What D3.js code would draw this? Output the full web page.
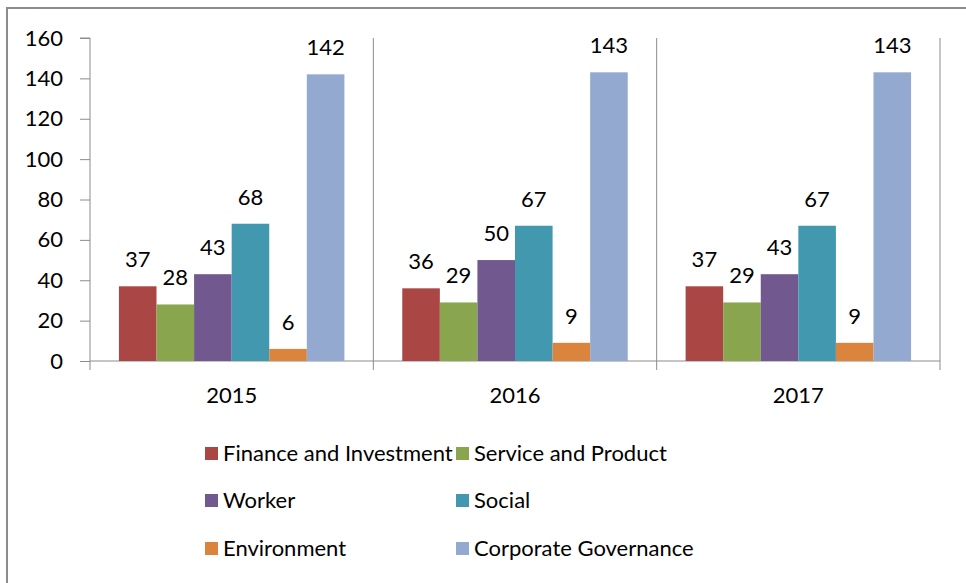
<!DOCTYPE html>
<html>
<head>
<meta charset="utf-8">
<script src="https://cdn.jsdelivr.net/npm/d3@7"></script>
<style>
  body { margin: 0; background: #fff; }
  svg { display: block; font-family: Lato, "Noto Sans", sans-serif; }
</style>
</head>
<body>
<div id="vis"></div>
<script>
// Grouped bar chart: topics per year
const years = ["2015", "2016", "2017"];
const seriesNames = ["Finance and Investment", "Service and Product", "Worker", "Social", "Environment", "Corporate Governance"];
const financeVals = [37, 36, 37];
const serviceVals = [28, 29, 29];
const workerVals = [43, 50, 43];
const socialVals = [68, 67, 67];
const environmentVals = [6, 9, 9];
const governanceVals = [142, 143, 143];
const yTicks = [0, 20, 40, 60, 80, 100, 120, 140, 160];

const colors = ["#AA4643", "#89A54E", "#71588F", "#4198AF", "#DB843D", "#93A9CF"];
const seriesVals = [financeVals, serviceVals, workerVals, socialVals, environmentVals, governanceVals];

const width = 966;
const height = 583;
const margin = { top: 38, right: 26, bottom: 222, left: 90 };
const fontSize = 22;

const svg = d3.select("#vis")
  .append("svg")
  .attr("width", width)
  .attr("height", height);

// outer frame (only left and top visible)
svg.append("path")
  .attr("d", `M7,${height} V8 H${width}`)
  .attr("fill", "none")
  .attr("stroke", "#8c8c8c")
  .attr("stroke-width", 2);

const x0 = d3.scaleBand()
  .domain(years)
  .range([margin.left, width - margin.right])
  .padding(0);

const x1 = d3.scaleBand()
  .domain(seriesNames)
  .range([0, x0.bandwidth()])
  .paddingInner(0)
  .paddingOuter(0.77);

const y = d3.scaleLinear()
  .domain([0, 160])
  .range([height - margin.bottom, margin.top]);

// category separators
svg.append("g")
  .selectAll("line")
  .data(years)
  .enter()
  .append("line")
  .attr("x1", d => x0(d) + x0.bandwidth())
  .attr("x2", d => x0(d) + x0.bandwidth())
  .attr("y1", y(160))
  .attr("y2", y(0) + 9)
  .attr("stroke", "#8c8c8c")
  .attr("stroke-width", 1);

// Y axis
const yAxis = svg.append("g")
  .attr("transform", `translate(${margin.left},0)`)
  .call(d3.axisLeft(y).tickValues(yTicks).tickSize(10).tickPadding(17));
yAxis.selectAll("line, path").attr("stroke", "#8c8c8c");
yAxis.select(".domain").attr("d", `M-10,${y(160)}H0V${y(0)}`);
yAxis.selectAll("text")
  .attr("font-family", "Lato, sans-serif")
  .attr("font-size", fontSize)
  .attr("fill", "#000");

// X axis line and ticks
svg.append("line")
  .attr("x1", margin.left).attr("x2", width - margin.right)
  .attr("y1", y(0)).attr("y2", y(0))
  .attr("stroke", "#8c8c8c");
svg.append("line")
  .attr("x1", margin.left).attr("x2", margin.left)
  .attr("y1", y(0)).attr("y2", y(0) + 9)
  .attr("stroke", "#8c8c8c");

svg.append("g")
  .selectAll("text")
  .data(years)
  .enter()
  .append("text")
  .attr("x", d => x0(d) + x0.bandwidth() / 2)
  .attr("y", y(0) + 42)
  .attr("text-anchor", "middle")
  .attr("font-size", fontSize)
  .text(d => d);

// Bars
const groups = svg.append("g")
  .selectAll("g")
  .data(years)
  .enter()
  .append("g")
  .attr("transform", d => `translate(${x0(d)},0)`);

groups.selectAll("rect")
  .data((d, yi) => seriesNames.map((s, si) => ({ s, v: seriesVals[si][yi], c: colors[si] })))
  .enter()
  .append("rect")
  .attr("x", d => x1(d.s))
  .attr("y", d => y(d.v))
  .attr("width", x1.bandwidth())
  .attr("height", d => y(0) - y(d.v))
  .attr("fill", d => d.c);

groups.selectAll("text")
  .data((d, yi) => seriesNames.map((s, si) => ({ s, v: seriesVals[si][yi] })))
  .enter()
  .append("text")
  .attr("x", d => x1(d.s) + x1.bandwidth() / 2)
  .attr("y", d => y(d.v) - 19)
  .attr("text-anchor", "middle")
  .attr("font-size", fontSize)
  .text(d => d.v);

// Legend
const legend = svg.append("g");
const legendCols = [205, 456];
const legendRows = [453, 500, 548];
seriesNames.forEach((s, i) => {
  const lx = legendCols[i % 2];
  const ly = legendRows[Math.floor(i / 2)];
  legend.append("rect")
    .attr("x", lx)
    .attr("y", ly - 6)
    .attr("width", 13)
    .attr("height", 13)
    .attr("fill", colors[i]);
  legend.append("text")
    .attr("x", lx + 18)
    .attr("y", ly + 8)
    .attr("font-size", fontSize)
    .text(s);
});
</script>
</body>
</html>
